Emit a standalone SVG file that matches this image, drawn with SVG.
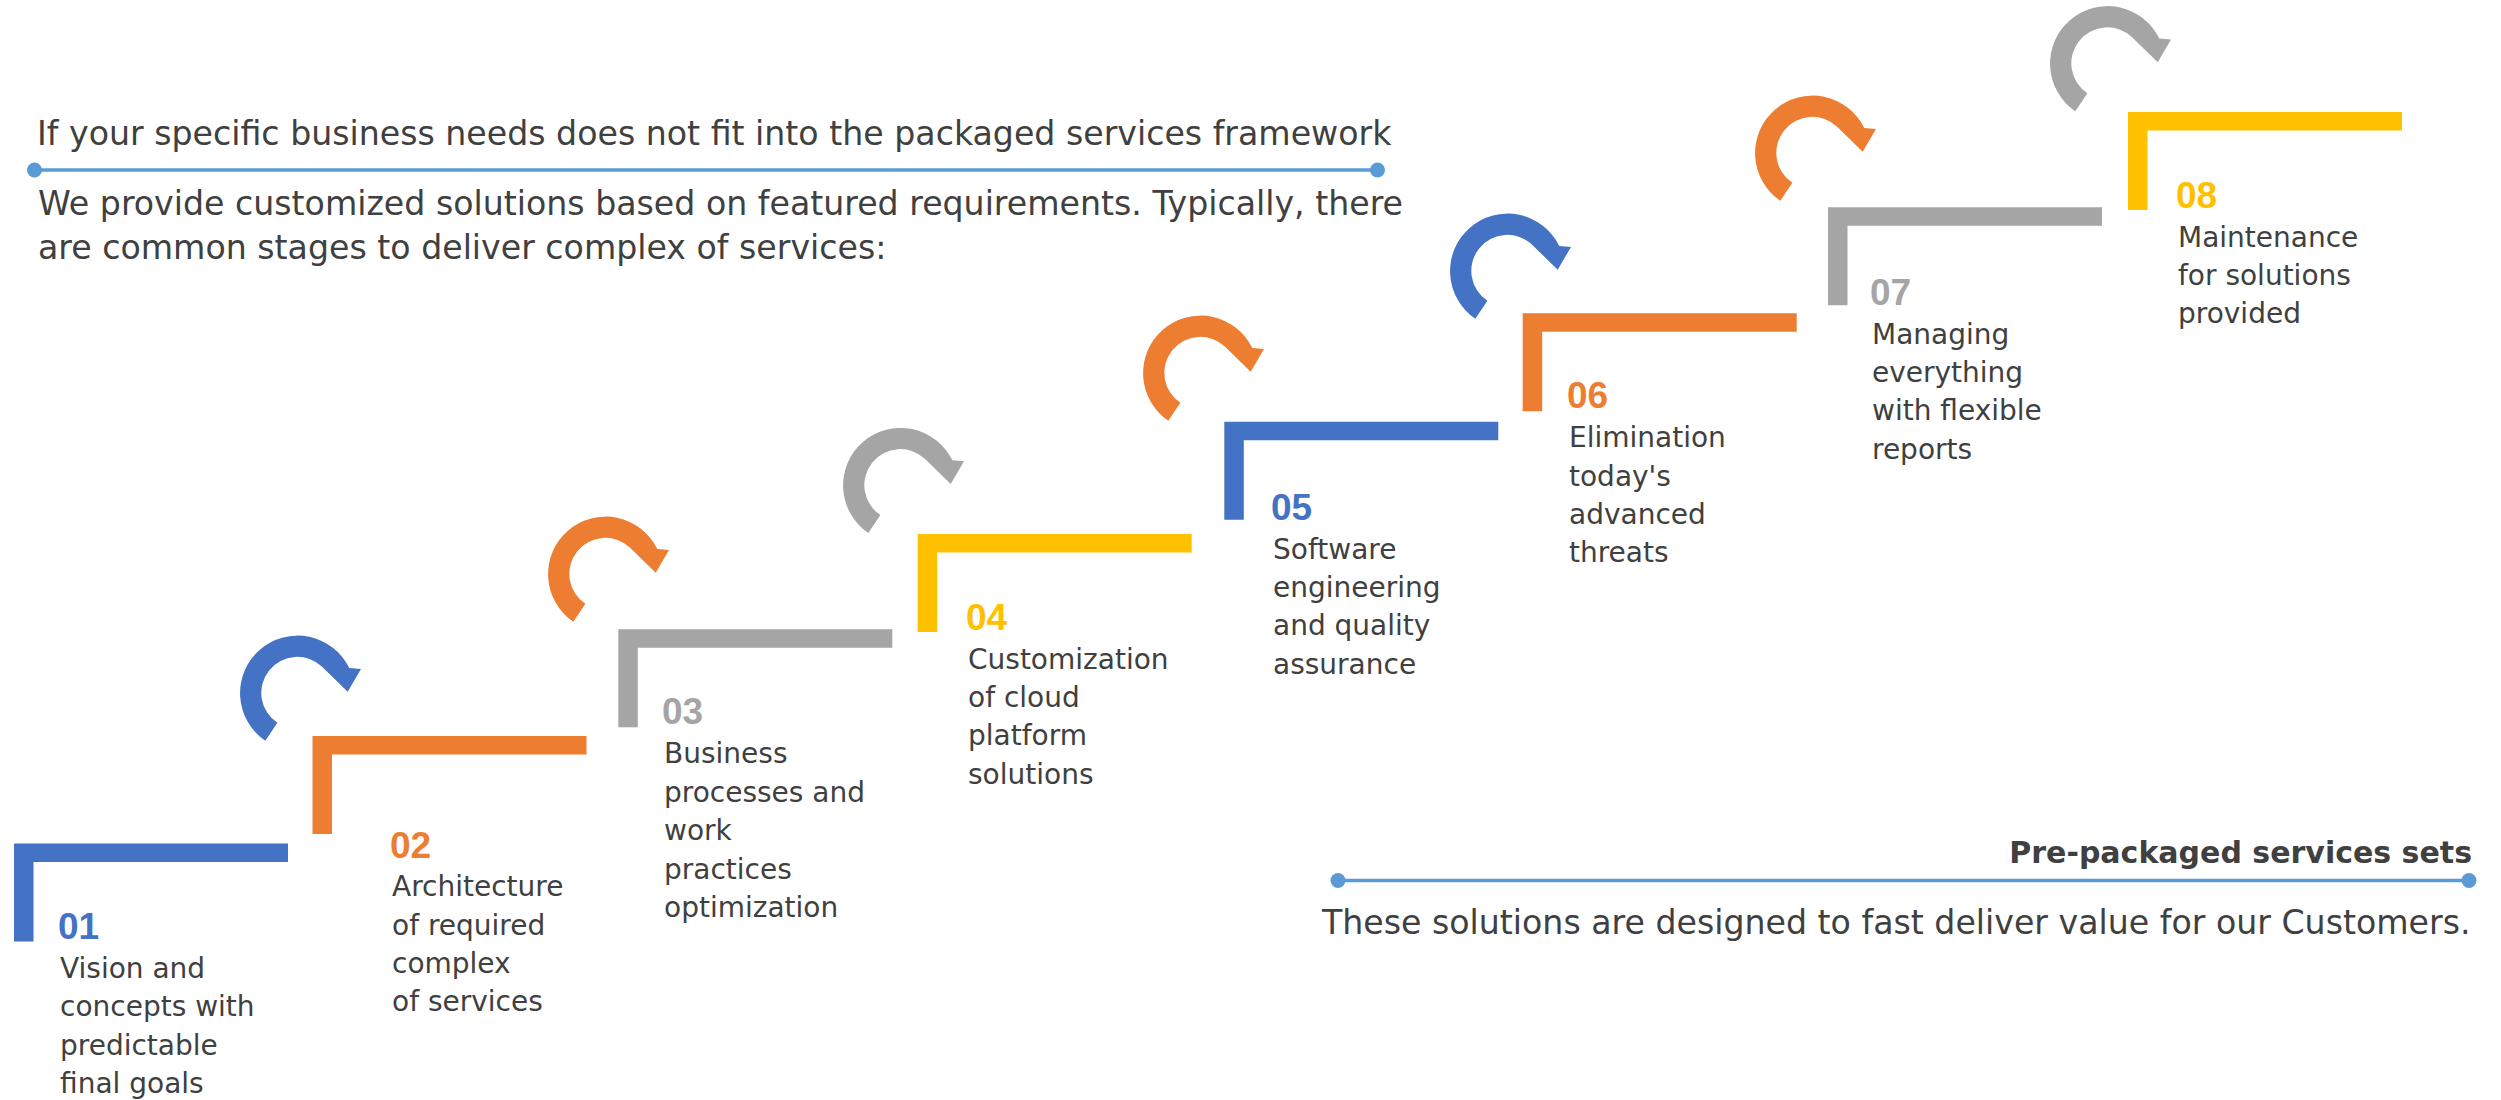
<svg xmlns="http://www.w3.org/2000/svg" xmlns:xlink="http://www.w3.org/1999/xlink" width="2501" height="1100" viewBox="0 0 2501 1100">
<style>
.txt{font-family:"DejaVu Sans","Liberation Sans",sans-serif;fill:#404040}
.body{font-size:28px}
.head{font-size:33.2px}
.bold{font-weight:bold;font-size:30px}
.num{font-family:"Liberation Sans","DejaVu Sans",sans-serif;font-weight:bold;font-size:37px}
.blue{fill:#4472C4}
.orange{fill:#ED7D31}
.grey{fill:#A5A5A5}
.yellow{fill:#FFC000}
.rule{stroke:#5B9BD5;stroke-width:3.5;fill:none}
.dot{fill:#5B9BD5}
</style>
<defs>
<path id="step" d="M0 0 H274 V18.5 H19.5 V98 H0 Z"/>
<path id="arr" d="M-32.2 47.7 A57.5 57.5 0 1 1 51.8 -25 L63.5 -24 L50.2 -1.3 L24.6 -26.3 A36 36 0 1 0 -20.1 29.8 Z"/>
</defs>
<rect width="2501" height="1100" fill="#ffffff"/>

<g id="intro">
<text class="txt head" x="37" y="145">If your specific business needs does not fit into the packaged services framework</text>
<line class="rule" x1="34.5" y1="170" x2="1377.5" y2="170"/>
<circle class="dot" cx="34.5" cy="170" r="7.5"/>
<circle class="dot" cx="1377.5" cy="170" r="7.5"/>
<text class="txt head"><tspan x="38" y="215">We provide customized solutions based on featured requirements. Typically, there</tspan><tspan x="38" y="258.5">are common stages to deliver complex of services:</tspan></text>
</g>

<g id="connectors">
<use xlink:href="#arr" href="#arr" class="blue" transform="translate(297.5 693)"/>
<use xlink:href="#arr" href="#arr" class="orange" transform="translate(605.5 574)"/>
<use xlink:href="#arr" href="#arr" class="grey" transform="translate(900.5 485.3)"/>
<use xlink:href="#arr" href="#arr" class="orange" transform="translate(1200.5 373)"/>
<use xlink:href="#arr" href="#arr" class="blue" transform="translate(1507.5 271)"/>
<use xlink:href="#arr" href="#arr" class="orange" transform="translate(1812.5 153)"/>
<use xlink:href="#arr" href="#arr" class="grey" transform="translate(2107.5 63.5)"/>
</g>

<g id="step1">
<use xlink:href="#step" href="#step" class="blue" transform="translate(14 843.5)"/>
<text class="num blue" x="58" y="939">01</text>
<text class="txt body"><tspan x="60" y="977.5">Vision and</tspan><tspan x="60" y="1016">concepts with</tspan><tspan x="60" y="1054.5">predictable</tspan><tspan x="60" y="1093">final goals</tspan></text>
</g>

<g id="step2">
<use xlink:href="#step" href="#step" class="orange" transform="translate(312.5 736)"/>
<text class="num orange" x="390" y="858">02</text>
<text class="txt body"><tspan x="392" y="896">Architecture</tspan><tspan x="392" y="934.5">of required</tspan><tspan x="392" y="973">complex</tspan><tspan x="392" y="1011">of services</tspan></text>
</g>

<g id="step3">
<use xlink:href="#step" href="#step" class="grey" transform="translate(618.3 629.3)"/>
<text class="num grey" x="662" y="724">03</text>
<text class="txt body"><tspan x="664" y="763">Business</tspan><tspan x="664" y="801.5">processes and</tspan><tspan x="664" y="840">work</tspan><tspan x="664" y="878.5">practices</tspan><tspan x="664" y="917">optimization</tspan></text>
</g>

<g id="step4">
<use xlink:href="#step" href="#step" class="yellow" transform="translate(917.7 534)"/>
<text class="num yellow" x="966" y="630">04</text>
<text class="txt body"><tspan x="968" y="668.5">Customization</tspan><tspan x="968" y="707">of cloud</tspan><tspan x="968" y="745">platform</tspan><tspan x="968" y="783.5">solutions</tspan></text>
</g>

<g id="step5">
<use xlink:href="#step" href="#step" class="blue" transform="translate(1224.3 421.7)"/>
<text class="num blue" x="1271" y="520">05</text>
<text class="txt body"><tspan x="1273" y="559">Software</tspan><tspan x="1273" y="597">engineering</tspan><tspan x="1273" y="635">and quality</tspan><tspan x="1273" y="674">assurance</tspan></text>
</g>

<g id="step6">
<use xlink:href="#step" href="#step" class="orange" transform="translate(1522.7 313.3)"/>
<text class="num orange" x="1567" y="408">06</text>
<text class="txt body"><tspan x="1569" y="447">Elimination</tspan><tspan x="1569" y="485.5">today's</tspan><tspan x="1569" y="523.5">advanced</tspan><tspan x="1569" y="562">threats</tspan></text>
</g>

<g id="step7">
<use xlink:href="#step" href="#step" class="grey" transform="translate(1828 207.3)"/>
<text class="num grey" x="1870" y="305">07</text>
<text class="txt body"><tspan x="1872" y="343.5">Managing</tspan><tspan x="1872" y="382">everything</tspan><tspan x="1872" y="420">with flexible</tspan><tspan x="1872" y="458.5">reports</tspan></text>
</g>

<g id="step8">
<use xlink:href="#step" href="#step" class="yellow" transform="translate(2128 112)"/>
<text class="num yellow" x="2176" y="208">08</text>
<text class="txt body"><tspan x="2178" y="246.5">Maintenance</tspan><tspan x="2178" y="285">for solutions</tspan><tspan x="2178" y="323">provided</tspan></text>
</g>

<g id="packaged">
<text class="txt bold" x="2472" y="863" text-anchor="end">Pre-packaged services sets</text>
<line class="rule" x1="1338" y1="880.5" x2="2469" y2="880.5"/>
<circle class="dot" cx="1338" cy="880.5" r="7.5"/>
<circle class="dot" cx="2469" cy="880.5" r="7.5"/>
<text class="txt head" x="1322" y="933.5">These solutions are designed to fast deliver value for our Customers.</text>
</g>
</svg>
